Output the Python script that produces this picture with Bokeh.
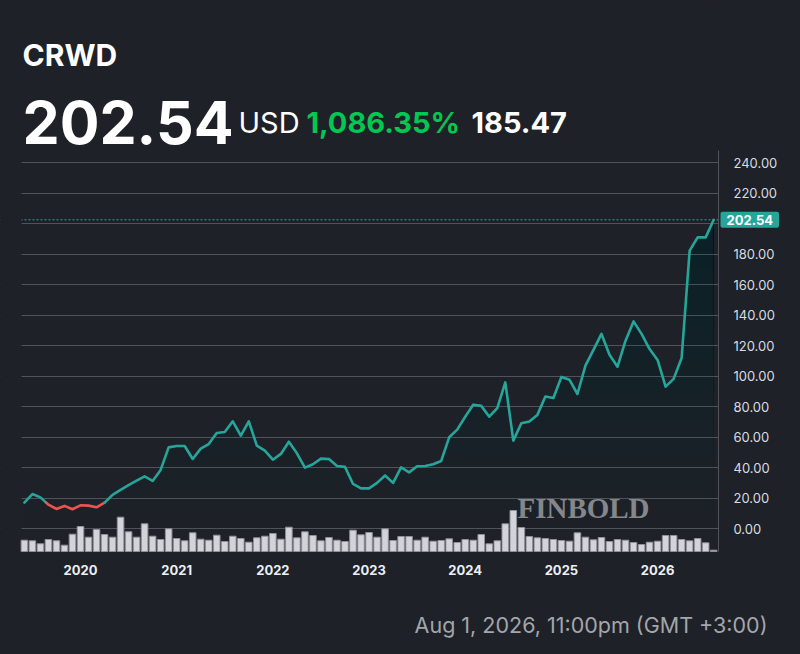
import numpy as np
from bokeh.plotting import figure
from bokeh.models import Range1d, FixedTicker, Label, Span, PrintfTickFormatter, BoxAnnotation
from bokeh.embed import file_html
from bokeh.resources import INLINE

# ---------------- data ----------------
ticker_symbol = "CRWD"
last_price = 202.54
currency = "USD"
change_pct_text = "1,086.35%"
change_abs = 185.47
timestamp_text = "Aug 1, 2026, 11:00pm (GMT +3:00)"
watermark_text = "FINBOLD"
start_year, start_month = 2019, 6   # first monthly point

prices = [
    17.07, 22.7, 20.5, 15.7, 12.9, 14.9, 12.7, 15.3, 15.1, 14.0,
    17.0, 22.1, 25.4, 28.6, 31.5, 34.3, 31.3, 38.5, 53.3, 54.2,
    54.2, 45.7, 52.5, 55.5, 62.7, 63.4, 70.4, 61.0, 70.4, 54.4,
    51.1, 45.2, 49.0, 57.0, 49.4, 40.0, 42.2, 45.9, 45.7, 41.1,
    40.5, 29.3, 26.4, 26.4, 30.0, 34.8, 30.0, 40.2, 36.9, 40.9,
    41.1, 42.2, 44.4, 59.9, 64.9, 73.4, 81.3, 80.5, 73.4, 79.1,
    95.9, 57.7, 69.1, 70.2, 74.6, 86.6, 85.7, 99.5, 97.7, 88.3,
    106.9, 117.2, 127.7, 114.1, 106.2, 123.3, 135.9, 127.7, 117.8, 110.6,
    93.1, 98.2, 111.9, 182.3, 191.0, 191.0, 202.54,
]

volumes = [
    11.3, 10.7, 7.7, 12.0, 10.7, 6.3, 17.3, 25.0, 14.3, 22.0,
    17.0, 14.3, 34.3, 19.7, 14.3, 27.7, 15.3, 12.0, 22.7, 13.0,
    10.7, 18.7, 12.3, 11.3, 16.3, 10.0, 15.3, 13.0, 9.3, 13.7,
    15.3, 18.0, 12.3, 24.3, 13.7, 19.7, 16.0, 10.7, 14.0, 11.3,
    10.0, 21.3, 16.7, 19.0, 14.3, 22.7, 11.0, 15.0, 15.0, 11.3,
    14.3, 10.3, 11.0, 12.7, 9.0, 12.0, 11.3, 17.0, 7.7, 10.7,
    27.7, 41.0, 24.0, 15.0, 13.7, 13.0, 12.0, 11.0, 10.3, 18.7,
    14.3, 11.7, 14.0, 10.0, 12.0, 11.3, 9.0, 7.0, 9.3, 10.3,
    16.0, 16.0, 12.0, 10.7, 13.0, 8.7, 1.3,
]

y_ticks = [0, 20, 40, 60, 80, 100, 120, 140, 160, 180, 200, 220, 240]

# ---------------- derived ----------------
n = len(prices)
idx = np.arange(n)
months = [(start_year + (start_month - 1 + i) // 12, (start_month - 1 + i) % 12 + 1) for i in range(n)]
x_ticks = [i for i, (yy, mm) in enumerate(months) if mm == 1]
x_labels = {i: str(months[i][0]) for i in x_ticks}
base_price = round(last_price - change_abs, 2)
# axis labels hidden where the last-price tag sits
axis_ticks = [t for t in y_ticks if abs(t - last_price) > 8]

# ---------------- layout / style ----------------
BG = "#1e2127"
TEAL = "#26a69a"
RED = "#ef5350"
GREEN = "#00c853"
GRID = "#505359"
TXT = "#d8dbe2"

W, H = 800, 654
X_LO, X_HI = -0.36, n - 0.4          # plotted x extent (month index)
Y_LO, Y_HI = -15.0, 248.0            # plotted price extent
PX_L, PX_T, PX_R, PX_B = 21, 150, 718, 551   # where that extent sits on the page
kx = (PX_R - PX_L) / (X_HI - X_LO)
ky = (PX_B - PX_T) / (Y_HI - Y_LO)
x_range = Range1d(X_LO - PX_L / kx, X_LO + (W - PX_L) / kx)
y_range = Range1d(Y_HI - (H - PX_T) / ky, Y_HI + PX_T / ky)

p = figure(width=W, height=H, output_backend="svg", toolbar_location=None,
           x_range=x_range, y_range=y_range,
           background_fill_color=BG, border_fill_color=BG, outline_line_color=None,
           min_border=0, y_axis_location="right")

# axes drawn at the edges of the plotted extent
p.yaxis.fixed_location = X_HI
p.yaxis.bounds = (Y_LO, Y_HI)
p.yaxis.ticker = FixedTicker(ticks=axis_ticks)
p.ygrid.ticker = FixedTicker(ticks=y_ticks)
p.yaxis.formatter = PrintfTickFormatter(format="%.2f")
p.yaxis.major_label_text_color = TXT
p.yaxis.major_label_text_font = "Inter"
p.yaxis.major_label_text_font_size = "13px"
p.yaxis.axis_line_color = "#50535a"
p.yaxis.major_tick_line_color = None
p.yaxis.minor_tick_line_color = None
p.yaxis.major_label_standoff = 9

p.xaxis.fixed_location = Y_LO
p.xaxis.ticker = FixedTicker(ticks=x_ticks)
p.xaxis.major_label_overrides = x_labels
p.xaxis.major_label_text_color = "#eceff3"
p.xaxis.major_label_text_font = "Inter"
p.xaxis.major_label_text_font_style = "bold"
p.xaxis.major_label_text_font_size = "13px"
p.xaxis.axis_line_color = None
p.xaxis.major_tick_line_color = None
p.xaxis.minor_tick_line_color = None
p.xaxis.major_label_standoff = 7

p.xgrid.visible = False
p.ygrid.grid_line_color = GRID
p.ygrid.grid_line_width = 1

# last price dotted line (underlay, trimmed by the masks below)
p.add_layout(Span(location=last_price, dimension="width", line_color=TEAL,
                  line_dash="2 2", line_width=1, level="underlay"))
# masks so grid lines only span the plotted extent
p.add_layout(BoxAnnotation(left=X_HI, fill_color=BG, fill_alpha=1, line_color=None, level="underlay"))
p.add_layout(BoxAnnotation(right=X_LO, fill_color=BG, fill_alpha=1, line_color=None, level="underlay"))

# gradient-like area fill under the price line
xf = np.linspace(0, n - 1, (n - 1) * 12 + 1)
yf = np.interp(xf, idx, prices)
for L in range(0, 250, 10):
    p.varea(x=xf, y1=np.minimum(yf, L), y2=yf, fill_color=TEAL, fill_alpha=0.0085)

# watermark
p.add_layout(Label(x=583, y=H - 507, x_units="screen", y_units="screen", text=watermark_text,
                   text_font="Liberation Serif", text_font_style="bold", text_font_size="29px",
                   text_color="#85878b", text_align="center", text_baseline="alphabetic"))

# volume bars (bottom at the lower edge of the plotted extent)
vol_lo = -(H - PX_B)
p.extra_y_ranges = {"vol": Range1d(vol_lo, vol_lo + H)}
p.vbar(x=idx, top=volumes, bottom=0, width=0.82, y_range_name="vol",
       fill_color="#d2d4da", line_color="#8e9198", line_width=1)

# price line, red where below the starting price
runs_x, runs_y, runs_c = [], [], []
cx, cy = [0.0], [prices[0]]
above = prices[0] >= base_price
for i in range(1, n):
    a = prices[i] >= base_price
    if a != above:
        t = (base_price - prices[i - 1]) / (prices[i] - prices[i - 1])
        xc = i - 1 + t
        cx.append(xc); cy.append(base_price)
        runs_x.append(cx); runs_y.append(cy); runs_c.append(TEAL if above else RED)
        cx, cy = [xc], [base_price]
        above = a
    cx.append(float(i)); cy.append(prices[i])
runs_x.append(cx); runs_y.append(cy); runs_c.append(TEAL if above else RED)
p.multi_line(xs=runs_x, ys=runs_y, line_color=runs_c, line_width=2.6,
             line_join="round", line_cap="round")

# last price tag on the axis
p.add_layout(Label(x=X_HI, y=last_price, x_units="data", y_units="data",
                   text=f"{last_price:.2f}", text_color="#ffffff", text_font="Inter",
                   text_font_style="bold", text_font_size="13px", text_baseline="middle",
                   text_align="left", background_fill_color=TEAL, padding=(6, 3),
                   x_offset=2, border_radius=2))

# header texts
hdr = dict(x_units="screen", y_units="screen", text_baseline="alphabetic", text_align="left")
p.add_layout(Label(x=22, y=H - 54, text=ticker_symbol, text_font="Inter", text_font_style="bold",
                   text_font_size="30px", text_color="#ffffff", **hdr))
p.add_layout(Label(x=22, y=H - 122, text=f"{last_price:.2f}", text_font="Inter",
                   text_font_style="bold", text_font_size="59px", text_color="#ffffff", **hdr))
p.add_layout(Label(x=238, y=H - 122, text=currency, text_font="Inter",
                   text_font_size="29px", text_color="#ffffff", **hdr))
p.add_layout(Label(x=306, y=H - 122, text=change_pct_text, text_font="Inter",
                   text_font_style="bold", text_font_size="29px", text_color=GREEN, **hdr))
p.add_layout(Label(x=471, y=H - 122, text=f"{change_abs:.2f}", text_font="Inter",
                   text_font_style="bold", text_font_size="29px", text_color="#ffffff", **hdr))

# timestamp
p.add_layout(Label(x=767, y=H - 624, x_units="screen", y_units="screen", text=timestamp_text,
                   text_font="Inter", text_font_size="21.5px", text_color="#a3a6ab",
                   text_align="right", text_baseline="alphabetic"))

html = file_html(p, INLINE)
html = html.replace("</head>", "<style>html,body{background:#1e2127;margin:0;}</style></head>", 1)
open("out.html", "w").write(html)
